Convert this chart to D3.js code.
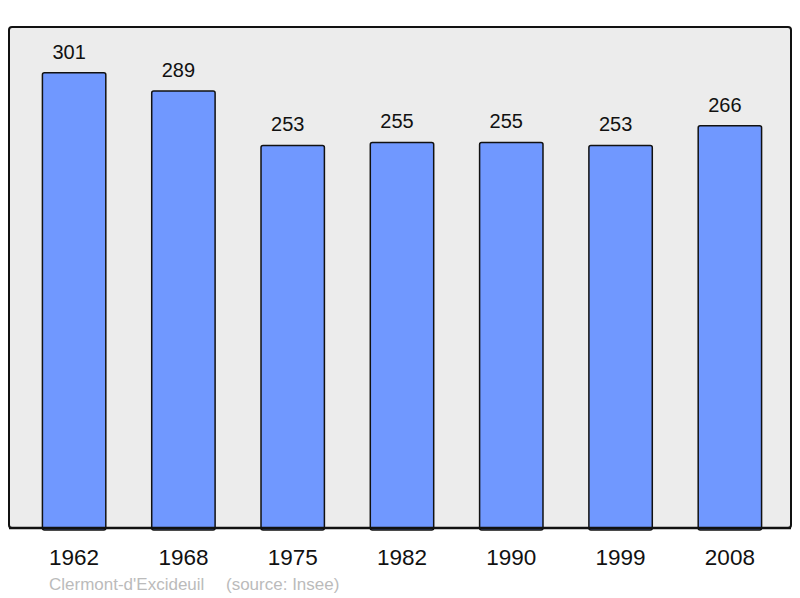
<!DOCTYPE html>
<html>
<head>
<meta charset="utf-8">
<script src="https://cdn.jsdelivr.net/npm/d3@7"></script>
<style>
  body { margin: 0; background: #fff; }
  svg { display: block; font-family: "Liberation Sans", Arial, sans-serif; }
</style>
</head>
<body>
<svg width="800" height="598"></svg>
<script>
var years = ["1962", "1968", "1975", "1982", "1990", "1999", "2008"];
var population = [301, 289, 253, 255, 255, 253, 266];
var townName = "Clermont-d'Excideuil";
var sourceText = "(source: Insee)";

var svg = d3.select("svg"),
    panel = { left: 9, top: 27, right: 791, bottom: 528 };

// grey background frame
svg.append("rect")
    .attr("x", panel.left)
    .attr("y", panel.top)
    .attr("width", panel.right - panel.left)
    .attr("height", panel.bottom - panel.top)
    .attr("rx", 3)
    .attr("fill", "#ececec")
    .attr("stroke", "#111")
    .attr("stroke-width", 2);

var x = d3.scaleBand()
    .domain(years)
    .range([14, 790])
    .paddingInner(0.42)
    .paddingOuter(0.26);

var y = d3.scaleLinear()
    .domain([0, 331.3])
    .range([panel.bottom, panel.top]);

var data = years.map((yr, i) => ({ year: yr, value: population[i] }));

svg.append("g")
    .selectAll("rect")
    .data(data)
    .join("rect")
    .attr("x", d => x(d.year))
    .attr("y", d => y(d.value))
    .attr("width", x.bandwidth())
    .attr("height", d => panel.bottom - y(d.value) + 2)
    .attr("rx", 2)
    .attr("fill", "#7098ff")
    .attr("stroke", "#111")
    .attr("stroke-width", 1.5);

// redraw bottom edge over the bars
svg.append("line")
    .attr("x1", panel.left)
    .attr("x2", panel.right)
    .attr("y1", panel.bottom)
    .attr("y2", panel.bottom)
    .attr("stroke", "#111")
    .attr("stroke-width", 2.5);

svg.append("g")
    .selectAll("text")
    .data(data)
    .join("text")
    .attr("x", d => x(d.year) + x.bandwidth() / 2 - 5)
    .attr("y", d => y(d.value) - 14)
    .attr("text-anchor", "middle")
    .attr("font-size", 20)
    .attr("fill", "#111")
    .text(d => d.value);

var xAxis = svg.append("g")
    .attr("transform", "translate(0," + panel.bottom + ")")
    .call(d3.axisBottom(x).tickSize(0).tickPadding(21));
xAxis.select(".domain").remove();
xAxis.selectAll("text")
    .attr("font-size", 22.5)
    .attr("font-family", "Liberation Sans, Arial, sans-serif")
    .attr("fill", "#111");

var footer = svg.append("text")
    .attr("y", 590)
    .attr("font-size", 17)
    .attr("fill", "#bbb");
footer.append("tspan").attr("x", 49).text(townName);
footer.append("tspan").attr("x", 226).text(sourceText);
</script>
</body>
</html>
